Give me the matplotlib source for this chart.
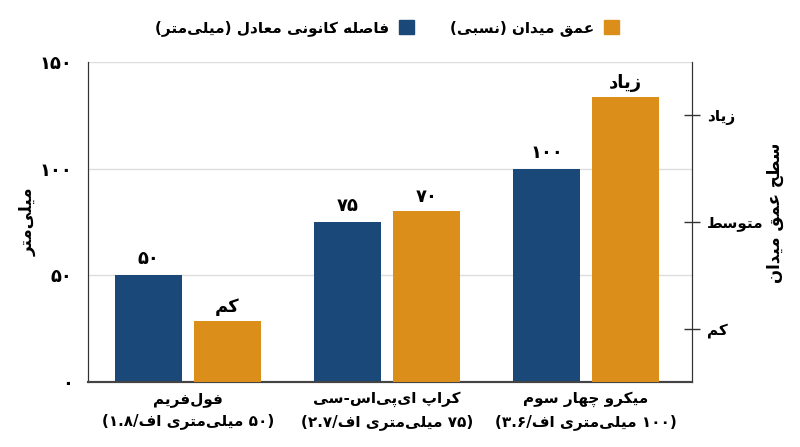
import re
import numpy as np
import matplotlib
matplotlib.use("Agg")
import matplotlib.pyplot as plt
from matplotlib.patches import Patch

# data
categories = ["فول‌فریم", "کراپ ای‌پی‌اس-سی", "میکرو چهار سوم"]
subtitles = ["(۵۰ میلی‌متری اف/۱.۸)", "(۷۵ میلی‌متری اف/۲.۷)", "(۱۰۰ میلی‌متری اف/۳.۶)"]
focal_mm = [50, 75, 100]
focal_labels = ["۵۰", "۷۵", "۱۰۰"]
dof_level = [1.07, 2.1, 3.17]          # relative scale, 1 = کم .. 3 = زیاد
dof_labels = ["کم", "۷۰", "زیاد"]
mm_ticks = [0, 50, 100, 150]
mm_tick_labels = ["۰", "۵۰", "۱۰۰", "۱۵۰"]
dof_ticks = [1, 2, 3]
dof_tick_labels = ["کم", "متوسط", "زیاد"]

BLUE = "#1a4878"
ORANGE = "#db8f1a"

# --- minimal Persian shaping + RTL ordering (matplotlib has no bidi) ---
FORMS = {
    "ا": ("\uFE8D", "\uFE8E"), "د": ("\uFEA9", "\uFEAA"), "ر": ("\uFEAD", "\uFEAE"),
    "ز": ("\uFEAF", "\uFEB0"), "و": ("\uFEED", "\uFEEE"),
    "ب": ("\uFE8F", "\uFE90", "\uFE91", "\uFE92"), "پ": ("\uFB56", "\uFB57", "\uFB58", "\uFB59"),
    "ت": ("\uFE95", "\uFE96", "\uFE97", "\uFE98"), "ح": ("\uFEA1", "\uFEA2", "\uFEA3", "\uFEA4"),
    "چ": ("\uFB7A", "\uFB7B", "\uFB7C", "\uFB7D"), "س": ("\uFEB1", "\uFEB2", "\uFEB3", "\uFEB4"),
    "ص": ("\uFEB9", "\uFEBA", "\uFEBB", "\uFEBC"), "ط": ("\uFEC1", "\uFEC2", "\uFEC3", "\uFEC4"),
    "ع": ("\uFEC9", "\uFECA", "\uFECB", "\uFECC"), "ف": ("\uFED1", "\uFED2", "\uFED3", "\uFED4"),
    "ق": ("\uFED5", "\uFED6", "\uFED7", "\uFED8"), "ک": ("\uFB8E", "\uFB8F", "\uFB90", "\uFB91"),
    "ل": ("\uFEDD", "\uFEDE", "\uFEDF", "\uFEE0"), "م": ("\uFEE1", "\uFEE2", "\uFEE3", "\uFEE4"),
    "ن": ("\uFEE5", "\uFEE6", "\uFEE7", "\uFEE8"), "ه": ("\uFEE9", "\uFEEA", "\uFEEB", "\uFEEC"),
    "ی": ("\uFBFC", "\uFBFD", "\uFBFE", "\uFBFF"),
}
MIRROR = {"(": ")", ")": "("}


def fa(text):
    out = []
    for i, ch in enumerate(text):
        if ch not in FORMS:
            out.append(ch)
            continue
        f = FORMS[ch]
        prev = text[i - 1] if i > 0 else ""
        nxt = text[i + 1] if i + 1 < len(text) else ""
        jp = prev in FORMS and len(FORMS[prev]) == 4
        jn = len(f) == 4 and nxt in FORMS
        if jp and jn:
            out.append(f[3])
        elif jp:
            out.append(f[1])
        elif jn:
            out.append(f[2])
        else:
            out.append(f[0])
    s = "".join(out).replace("\u200c", "")
    tokens = re.findall(r"[0-9۰-۹]+(?:\.[0-9۰-۹]+)*|.", s)
    return "".join(MIRROR.get(t, t) for t in reversed(tokens))


plt.rcParams["font.family"] = ["DejaVu Sans"]
plt.rcParams["font.weight"] = "bold"

fig = plt.figure(figsize=(8, 4.47), dpi=100)
ax = fig.add_axes([0.11, 0.1454, 0.755, 0.7156])
ax2 = ax.twinx()

x = np.arange(len(categories))
w = 0.337
off = 0.198

ax.bar(x - off, focal_mm, w, color=BLUE, zorder=3)
ax2.bar(x + off, dof_level, w, color=ORANGE, zorder=3)

for xi, v, lab in zip(x, focal_mm, focal_labels):
    ax.annotate(fa(lab), (xi - off, v), xytext=(0, 5), textcoords="offset points",
                ha="center", va="bottom", fontsize=13, fontweight="bold")
for xi, v, lab in zip(x, dof_level, dof_labels):
    ax2.annotate(fa(lab), (xi + off, v), xytext=(0, 4), textcoords="offset points",
                 ha="center", va="bottom", fontsize=13, fontweight="bold")

ax.set_xlim(-0.503, 2.533)
ax.set_ylim(0, 150)
ax2.set_ylim(0.5, 3.5)

ax.set_yticks(mm_ticks)
ax.set_yticklabels([fa(t) for t in mm_tick_labels], fontsize=13, fontweight="bold")
ax.tick_params(axis="y", length=0, pad=11)
ax.yaxis.grid(True, color="#dddddd", linewidth=1, zorder=0)
ax.set_axisbelow(True)

ax.set_xticks(x)
ax.set_xticklabels([fa(c) + "\n" + fa(s) for c, s in zip(categories, subtitles)],
                   fontsize=11, fontweight="bold", linespacing=1.55)
ax.tick_params(axis="x", length=0, pad=7)

ax2.set_yticks(dof_ticks)
ax2.set_yticklabels([fa(t) for t in dof_tick_labels], fontsize=11, fontweight="bold")
ax2.tick_params(axis="y", direction="inout", length=12, width=1, color="#333333", pad=5)

for a in (ax, ax2):
    a.spines["top"].set_visible(False)
    a.spines["left"].set_color("#333333")
    a.spines["right"].set_color("#333333")
    a.spines["bottom"].set_color("#444444")
    a.spines["bottom"].set_linewidth(1.5)

fig.text(0.035, 0.505, fa("میلی‌متر"), rotation=90, ha="center", va="center",
         fontsize=12, fontweight="bold")
fig.text(0.969, 0.523, fa("سطح عمق میدان"), rotation=90, ha="center", va="center",
         fontsize=12, fontweight="bold")

handles = [Patch(color=BLUE), Patch(color=ORANGE)]
labels = [fa("فاصله کانونی معادل (میلی‌متر)"), fa("عمق میدان (نسبی)")]
fig.legend(handles, labels, loc="center", bbox_to_anchor=(0.484, 0.937), ncol=2,
           frameon=False, markerfirst=False, handlelength=1.0, handleheight=1.0,
           columnspacing=2.4, handletextpad=0.6, prop={"size": 11, "weight": "bold"})

fig.savefig("out.png", dpi=100)
